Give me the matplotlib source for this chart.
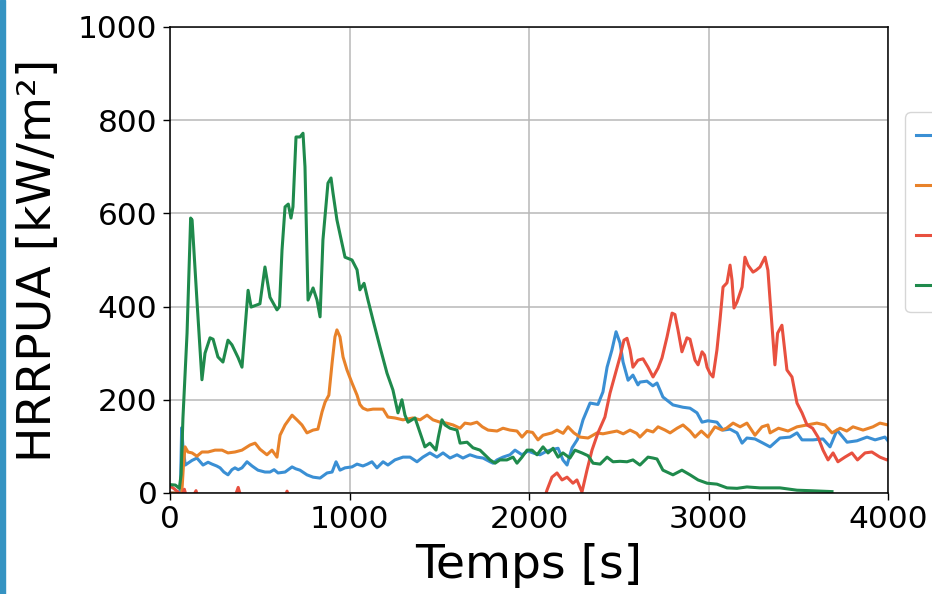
import matplotlib
matplotlib.use("Agg")
import matplotlib.pyplot as plt
from matplotlib.patches import Rectangle

# ---------------- data ----------------
legend_labels = [" ", " ", " ", " "]   # legend text lies outside the visible picture
colors = ["#3a8fd4", "#e8822a", "#e8503f", "#1f8a4c"]

t_blue = [0, 40, 58, 65, 72, 85, 100, 123, 150, 184, 212, 234, 260, 279, 300, 323, 345, 362, 380, 401,
          429, 457, 490, 529, 557, 580, 602, 641, 680, 700, 724, 763, 797, 836, 875, 903, 925, 947, 975,
          1014, 1042, 1075, 1100, 1125, 1153, 1187, 1214, 1253, 1298, 1337, 1376, 1409, 1448, 1487, 1521,
          1560, 1599, 1632, 1671, 1710, 1744, 1783, 1800, 1822, 1855, 1894, 1922, 1961, 1994, 2030, 2061,
          2090, 2117, 2162, 2189, 2212, 2240, 2270, 2301, 2340, 2384, 2412, 2435, 2462, 2485, 2507, 2524,
          2552, 2579, 2607, 2618, 2657, 2690, 2713, 2746, 2802, 2858, 2897, 2936, 2964, 2997, 3047, 3081,
          3120, 3159, 3187, 3214, 3259, 3304, 3343, 3398, 3454, 3493, 3521, 3582, 3638, 3677, 3716, 3772,
          3827, 3883, 3928, 3983, 4000]
v_blue = [0, 0, 5, 140, 100, 60, 64, 70, 75, 60, 66, 62, 58, 54, 45, 39, 50, 54, 50, 54,
          67, 58, 49, 45, 45, 50, 43, 45, 56, 52, 49, 39, 34, 32, 43, 45, 67, 49, 54,
          56, 62, 58, 62, 67, 54, 67, 60, 71, 77, 77, 67, 77, 86, 77, 86,
          75, 82, 75, 82, 77, 75, 67, 64, 71, 77, 82, 92, 82, 90, 85, 82,
          88, 92, 96, 71, 60, 97, 115, 157, 193, 190, 217, 270, 307, 346, 322, 281,
          242, 253, 232, 238, 240, 230, 236, 206, 189, 184, 182, 172, 152, 155, 152, 135,
          137, 129, 107, 118, 116, 107, 99, 118, 120, 129, 114, 114, 116, 99, 135, 109,
          112, 120, 114, 120, 112]

t_orange = [0, 50, 65, 75, 84, 100, 123, 150, 178, 212, 251, 290, 323, 362, 401, 446, 474, 501, 540,
            568, 596, 613, 641, 680, 707, 735, 763, 797, 824, 847, 864, 885, 903, 919, 930, 947, 964,
            986, 1014, 1042, 1058, 1075, 1100, 1131, 1187, 1214, 1253, 1298, 1354, 1393, 1432, 1465,
            1504, 1540, 1577, 1616, 1643, 1675, 1710, 1740, 1772, 1822, 1855, 1894, 1933, 1961, 1989,
            2020, 2050, 2078, 2128, 2156, 2190, 2217, 2250, 2284, 2329, 2379, 2412, 2450, 2490, 2525,
            2563, 2600, 2618, 2657, 2691, 2719, 2758, 2786, 2825, 2858, 2897, 2925, 2960, 2997, 3036,
            3075, 3100, 3137, 3176, 3214, 3259, 3298, 3331, 3343, 3390, 3443, 3493, 3549, 3604, 3649,
            3688, 3733, 3770, 3805, 3861, 3916, 3955, 4000]
v_orange = [0, 0, -5, 60, 99, 88, 86, 79, 88, 88, 92, 92, 86, 88, 92, 103, 107, 94, 82,
            92, 77, 124, 146, 167, 157, 146, 129, 135, 137, 174, 195, 210, 279, 335, 350, 335, 292,
            264, 236, 210, 190, 182, 178, 180, 180, 163, 161, 157, 161, 157, 167, 157,
            152, 150, 146, 139, 150, 148, 152, 142, 135, 133, 139, 135, 133, 120, 132,
            130, 114, 124, 129, 135, 128, 142, 129, 120, 118, 129, 127, 130, 133, 127,
            135, 128, 120, 135, 131, 142, 135, 129, 139, 146, 133, 120, 133, 120, 142,
            135, 139, 150, 142, 150, 124, 142, 146, 129, 139, 133, 142, 146, 150, 146,
            129, 139, 133, 142, 135, 142, 150, 146]

t_red = [0, 20, 45, 60, 80, 100, 125, 145, 165, 200, 300, 360, 380, 400, 500, 640, 652, 665, 800,
         1200, 1600, 2000, 2080, 2100, 2128, 2156, 2184, 2212, 2245, 2267, 2295, 2323, 2351, 2384,
         2423, 2451, 2479, 2507, 2529, 2546, 2563, 2579, 2607, 2635, 2663, 2691, 2719, 2741, 2769,
         2797, 2813, 2830, 2852, 2880, 2897, 2925, 2942, 2964, 2978, 2992, 3008, 3025, 3047, 3064,
         3081, 3103, 3120, 3131, 3142, 3159, 3187, 3203, 3220, 3248, 3265, 3287, 3315, 3331, 3343,
         3370, 3385, 3409, 3437, 3465, 3493, 3521, 3549, 3580, 3610, 3638, 3666, 3694, 3721, 3760,
         3799, 3830, 3872, 3910, 3955, 3994, 4000]
v_red = [15, 10, 2, -15, 8, -20, -10, 5, -25, -40, -30, -10, 12, -15, -40, -10, 4, -10, -60,
         -80, -70, -50, -20, 6, 34, 43, 28, 34, 21, 28, 2, 49, 92, 129,
         163, 214, 253, 292, 328, 332, 307, 270, 285, 288, 270, 249, 268, 290, 335,
         386, 383, 350, 303, 333, 330, 285, 275, 303, 296, 270, 257, 249, 307, 371,
         442, 451, 489, 457, 397, 410, 442, 506, 489, 474, 478, 485, 506, 478, 414,
         275, 343, 360, 264, 249, 193, 172, 146, 139, 120, 92, 71, 86, 67, 77,
         86, 71, 86, 88, 77, 71, 72]

t_green = [0, 30, 52, 62, 72, 95, 115, 123, 150, 178, 195, 223, 240, 267, 295, 323, 345, 380, 401,
           435, 452, 501, 529, 557, 596, 610, 624, 641, 659, 674, 685, 702, 724, 741, 752, 769, 797,
           819, 836, 852, 880, 897, 908, 930, 958, 975, 1014, 1042, 1058, 1081, 1103, 1131, 1170,
           1209, 1242, 1270, 1292, 1309, 1326, 1365, 1382, 1420, 1448, 1482, 1495, 1515, 1532, 1560,
           1599, 1616, 1655, 1688, 1727, 1783, 1811, 1838, 1877, 1911, 1933, 1961, 1989, 2017, 2045,
           2078, 2106, 2134, 2162, 2189, 2228, 2256, 2295, 2329, 2357, 2396, 2435, 2468, 2507, 2546,
           2579, 2618, 2663, 2691, 2713, 2746, 2802, 2852, 2897, 2942, 2992, 3047, 3103, 3159, 3214,
           3287, 3398, 3493, 3565, 3688]
v_green = [18, 17, 10, 40, 160, 343, 590, 586, 414, 243, 300, 333, 330, 292, 281, 328, 318, 290, 270,
           435, 399, 406, 485, 420, 393, 400, 521, 614, 620, 590, 614, 764, 764, 772, 700, 414, 440,
           414, 378, 543, 665, 676, 644, 586, 536, 506, 500, 479, 436, 450, 414, 371, 313,
           257, 221, 172, 200, 167, 152, 161, 142, 99, 107, 92, 120, 157, 146, 139,
           135, 107, 109, 97, 92, 71, 64, 71, 71, 77, 64, 77, 92, 92, 82,
           99, 86, 96, 77, 86, 75, 92, 86, 80, 64, 62, 77, 67, 68, 67,
           71, 60, 77, 75, 73, 49, 39, 49, 39, 28, 21, 19, 11, 10, 13,
           11, 11, 6, 5, 3]

series = [(t_blue, v_blue), (t_orange, v_orange), (t_red, v_red), (t_green, v_green)]

x_ticks = [0, 1000, 2000, 3000, 4000]
y_ticks = [0, 200, 400, 600, 800, 1000]

# ---------------- figure ----------------
W, H = 932, 594
fig = plt.figure(figsize=(W / 100, H / 100), dpi=100)
fig.patch.set_facecolor("white")
ax = fig.add_axes([170 / W, 1 - 493 / H, (888 - 170) / W, (493 - 27) / H])

handles = []
for (t, v), c in zip(series, colors):
    ln, = ax.plot(t, v, color=c, lw=2.2)
    handles.append(ln)

ax.set_xlim(0, 4000)
ax.set_ylim(0, 1000)
ax.set_xticks(x_ticks)
ax.set_yticks(y_ticks)
ax.tick_params(labelsize=22.5, length=5, width=1, pad=4)
ax.grid(True, color="#b8b8b8", lw=1.1)
ax.set_axisbelow(True)
for s in ax.spines.values():
    s.set_linewidth(1.1)
ax.set_xlabel("Temps [s]", fontsize=34, labelpad=6)
ax.set_ylabel("HRRPUA [kW/m²]", fontsize=34, labelpad=12)

leg = ax.legend(handles, legend_labels, loc="center left", bbox_to_anchor=(1.024, 0.603),
                borderaxespad=0, fontsize=21, frameon=True, handlelength=2.0,
                labelspacing=0.76, handletextpad=0.8, borderpad=0.38)
leg.get_frame().set_edgecolor("#cccccc")

fig.add_artist(Rectangle((0, 0), 5 / W, 1, transform=fig.transFigure,
                         color="#3593c2", zorder=10))

fig.savefig("out.png", dpi=100)
